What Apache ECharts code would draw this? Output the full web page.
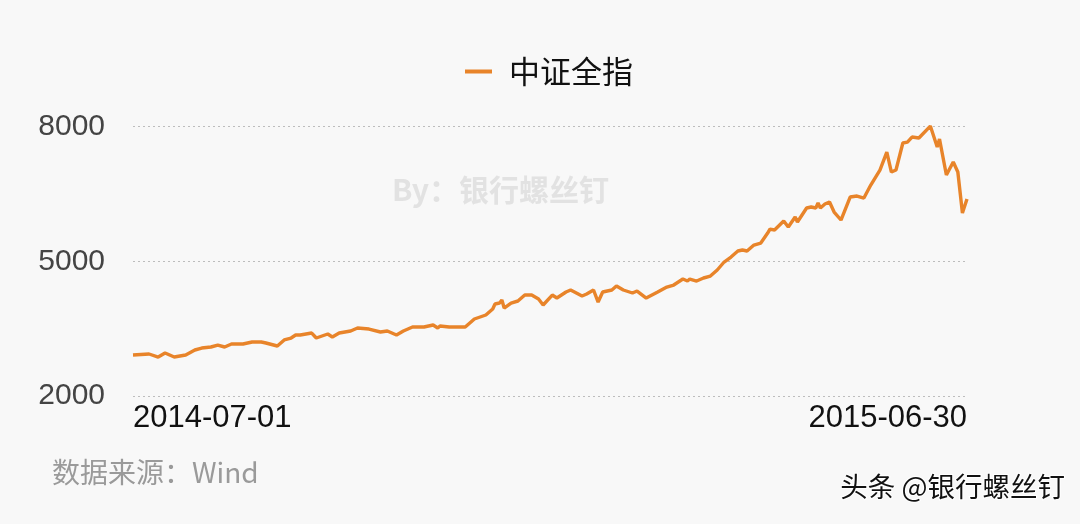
<!DOCTYPE html>
<html>
<head>
<meta charset="utf-8">
<script src="https://cdn.jsdelivr.net/npm/echarts@6/dist/echarts.min.js"></script>
<style>
html,body{margin:0;padding:0;background:#f8f8f8;}
#chart{width:1080px;height:524px;}
</style>
</head>
<body>
<div id="chart"></div>
<script>
// Day offsets from 2014-07-01 (category index) and index values
const dayIdx = [0,7,11,14,18,23,27,30,34,37,40,43,48,52,56,58,63,66,69,71,73,78,80,85,87,90,95,98,103,108,111,115,118,122,127,131,133,134,138,143,145,149,154,157,158,160,161,162,165,168,171,174,177,179,183,185,189,191,196,198,201,203,205,209,211,214,218,220,224,229,233,236,240,242,243,246,249,252,255,258,261,264,266,268,271,274,277,278,280,284,286,289,290,294,296,298,299,300,302,304,306,309,313,316,319,322,326,329,331,333,336,338,340,343,348,351,352,355,358,360,362,364];
const values = [2913,2935,2868,2957,2868,2913,3024,3068,3091,3135,3091,3158,3158,3202,3202,3180,3113,3247,3291,3358,3358,3402,3291,3380,3313,3402,3447,3514,3491,3425,3447,3358,3447,3536,3536,3580,3514,3558,3536,3536,3536,3714,3803,3937,4048,4070,4137,3959,4070,4115,4248,4248,4159,4026,4248,4181,4315,4360,4226,4271,4360,4092,4315,4360,4449,4360,4293,4337,4181,4315,4426,4471,4604,4560,4604,4560,4627,4671,4805,4983,5094,5228,5250,5228,5361,5406,5628,5717,5695,5896,5762,5985,5873,6185,6207,6185,6296,6185,6274,6318,6096,5918,6430,6452,6407,6697,7031,7431,6986,7031,7632,7654,7765,7743,8010,7543,7721,6919,7209,6986,6074,6385];
const seriesName = '中证全指';
const yTicks = [2000, 5000, 8000];
const xTickLabels = ['2014-07-01', '2015-06-30'];

// category dates: every calendar day from 2014-07-01 to 2015-06-30
const categories = [];
for (let i = 0; i <= 364; i++) {
  const d = new Date(Date.UTC(2014, 6, 1 + i));
  categories.push(d.toISOString().slice(0, 10));
}
const seriesData = dayIdx.map((d, i) => [categories[d], values[i]]);

const chart = echarts.init(document.getElementById('chart'));
chart.setOption({
  backgroundColor: '#f8f8f8',
  animation: false,
  legend: {
    data: [seriesName],
    top: 51,
    left: 460,
    itemWidth: 27,
    itemHeight: 4,
    itemGap: 10,
    icon: 'rect',
    textStyle: { fontSize: 31, color: '#111', fontFamily: 'Noto Sans CJK SC', padding: [0, 0, 0, 12] }
  },
  grid: { left: 133, right: 113, top: 126.5, bottom: 128, containLabel: false },
  xAxis: {
    type: 'category',
    data: categories,
    boundaryGap: false,
    axisLine: { show: false },
    axisTick: { show: false },
    axisLabel: {
      interval: function (idx, val) { return xTickLabels.indexOf(val) >= 0; },
      showMinLabel: true,
      showMaxLabel: true,
      alignMinLabel: 'left',
      alignMaxLabel: 'right',
      fontSize: 31,
      color: '#111',
      margin: 7,
      fontFamily: '"Liberation Sans", Arial, sans-serif'
    },
    splitLine: { show: false }
  },
  yAxis: {
    type: 'value',
    min: yTicks[0],
    max: yTicks[2],
    interval: 3000,
    axisLine: { show: false },
    axisTick: { show: false },
    axisLabel: {
      fontSize: 30,
      color: '#444',
      margin: 28,
      formatter: function (v) { return String(v); },
      fontFamily: '"Liberation Sans", Arial, sans-serif'
    },
    splitLine: { show: true, lineStyle: { type: [2, 3], color: '#bdbdbd', width: 1 } }
  },
  graphic: [
    { type: 'text', left: 392, top: 175, style: { text: 'By：银行螺丝钉', fontSize: 30, fontWeight: 'bold', fill: '#e2e2e2', fontFamily: 'Noto Sans CJK SC' }, z: 0 },
    { type: 'text', left: 52, top: 458, style: { text: '数据来源：Wind', fontSize: 28, fill: '#9a9a9a', fontFamily: 'Noto Sans CJK SC' } },
    { type: 'text', right: 14, top: 472, style: { text: '头条 @银行螺丝钉', fontSize: 27.5, fill: '#111', stroke: '#fff', lineWidth: 2, fontFamily: 'Noto Sans CJK SC' } }
  ],
  series: [{
    name: seriesName,
    type: 'line',
    data: seriesData,
    showSymbol: false,
    symbol: 'none',
    lineStyle: { color: '#E8842A', width: 3.4 },
    itemStyle: { color: '#E8842A' },
    z: 3
  }]
});
</script>
</body>
</html>
